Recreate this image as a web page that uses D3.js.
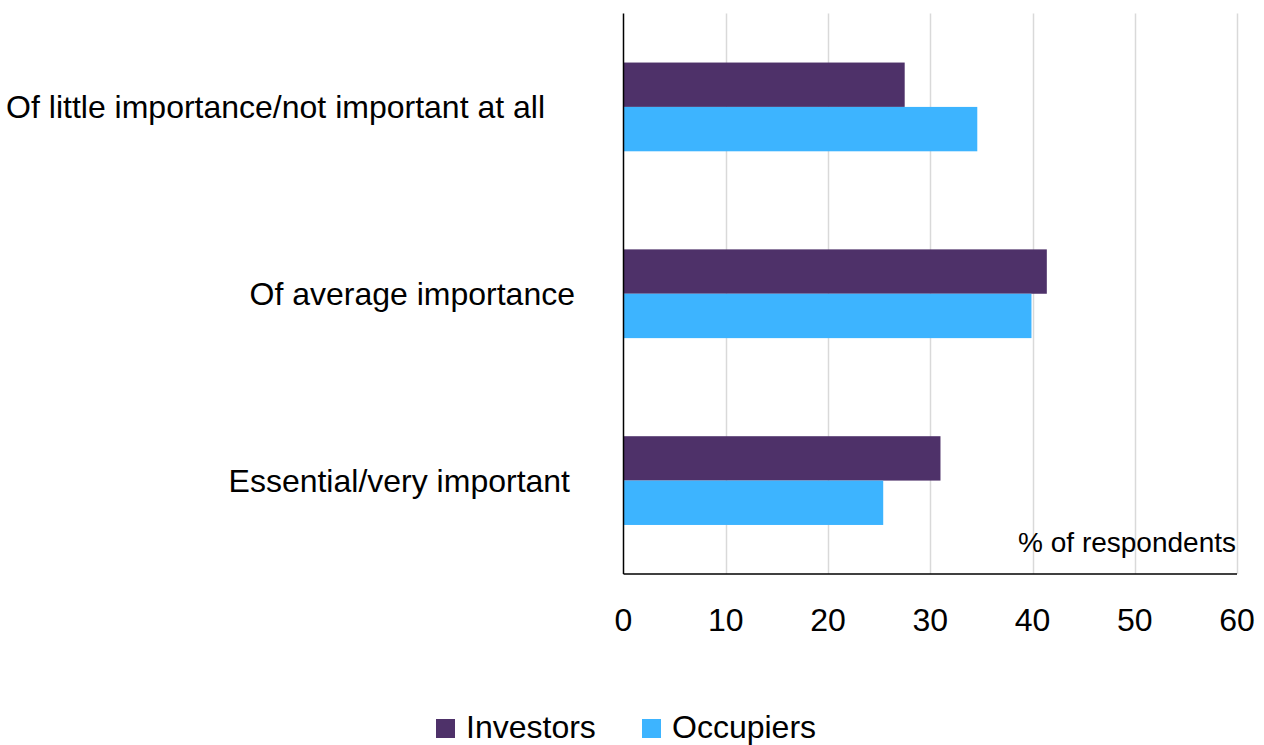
<!DOCTYPE html>
<html>
<head>
<meta charset="utf-8">
<script src="https://cdn.jsdelivr.net/npm/d3@7"></script>
<style>
  html, body { margin: 0; padding: 0; background: #fff; }
  svg { display: block; font-family: "Liberation Sans", Arial, sans-serif; }
</style>
</head>
<body>
<svg id="chart" width="1264" height="745"></svg>
<script>
// Survey responses, % of respondents
const categories = [
  "Of little importance/not important at all",
  "Of average importance",
  "Essential/very important"
];
const seriesNames = ["Investors", "Occupiers"];
const investors = [27.5, 41.4, 31.0];
const occupiers = [34.6, 39.9, 25.4];
const xTicks = [0, 10, 20, 30, 40, 50, 60];

const colors = { Investors: "#4E3169", Occupiers: "#3DB4FF" };

const svg = d3.select("#chart");

const plot = { left: 623.5, right: 1237, top: 13.5, bottom: 574 };

const x = d3.scaleLinear().domain([0, 60]).range([plot.left, plot.right]);
const y = d3.scaleBand().domain(categories)
  .range([plot.top, plot.bottom])
  .paddingInner(0.525).paddingOuter(0.2625);
const ySub = d3.scaleBand().domain(seriesNames).range([0, y.bandwidth()]);

// vertical gridlines
svg.append("g")
  .selectAll("line")
  .data(xTicks.filter(d => d > 0))
  .join("line")
  .attr("x1", d => Math.round(x(d)) + 0.5)
  .attr("x2", d => Math.round(x(d)) + 0.5)
  .attr("y1", plot.top)
  .attr("y2", plot.bottom)
  .attr("stroke", "#d9d9d9")
  .attr("stroke-width", 1.5);

// bars
const rows = categories.map((c, i) => ({
  category: c,
  values: [
    { series: "Investors", value: investors[i] },
    { series: "Occupiers", value: occupiers[i] }
  ]
}));

svg.append("g")
  .selectAll("g")
  .data(rows)
  .join("g")
  .attr("transform", d => `translate(0,${y(d.category)})`)
  .selectAll("rect")
  .data(d => d.values)
  .join("rect")
  .attr("x", x(0))
  .attr("y", d => ySub(d.series))
  .attr("width", d => x(d.value) - x(0))
  .attr("height", ySub.bandwidth())
  .attr("fill", d => colors[d.series]);

// axes lines
svg.append("line")
  .attr("x1", plot.left).attr("x2", plot.left)
  .attr("y1", plot.top).attr("y2", plot.bottom)
  .attr("stroke", "#000").attr("stroke-width", 1.5);
svg.append("line")
  .attr("x1", plot.left).attr("x2", plot.right)
  .attr("y1", plot.bottom).attr("y2", plot.bottom)
  .attr("stroke", "#000").attr("stroke-width", 1.5);

// x tick labels
svg.append("g")
  .selectAll("text")
  .data(xTicks)
  .join("text")
  .attr("x", d => x(d))
  .attr("y", 631)
  .attr("text-anchor", "middle")
  .attr("font-size", 32)
  .attr("fill", "#000")
  .text(d => d);

// category labels
const labelNudge = [-30, 0, -5];
svg.append("g")
  .selectAll("text")
  .data(categories)
  .join("text")
  .attr("x", (d, i) => 575 + labelNudge[i])
  .attr("y", d => y(d) + y.bandwidth() / 2)
  .attr("dy", "0.35em")
  .attr("text-anchor", "end")
  .attr("font-size", 32)
  .attr("fill", "#000")
  .text(d => d);

// unit label
svg.append("text")
  .attr("x", 1236)
  .attr("y", 552)
  .attr("text-anchor", "end")
  .attr("font-size", 28)
  .attr("fill", "#000")
  .text("% of respondents");

// legend
const legendX = [436, 642];
const legend = svg.append("g")
  .selectAll("g")
  .data(seriesNames)
  .join("g")
  .attr("transform", (d, i) => `translate(${legendX[i]},719)`);
legend.append("rect")
  .attr("width", 19).attr("height", 19)
  .attr("fill", d => colors[d]);
legend.append("text")
  .attr("x", 30).attr("y", 19)
  .attr("font-size", 32)
  .attr("fill", "#000")
  .text(d => d);
</script>
</body>
</html>
